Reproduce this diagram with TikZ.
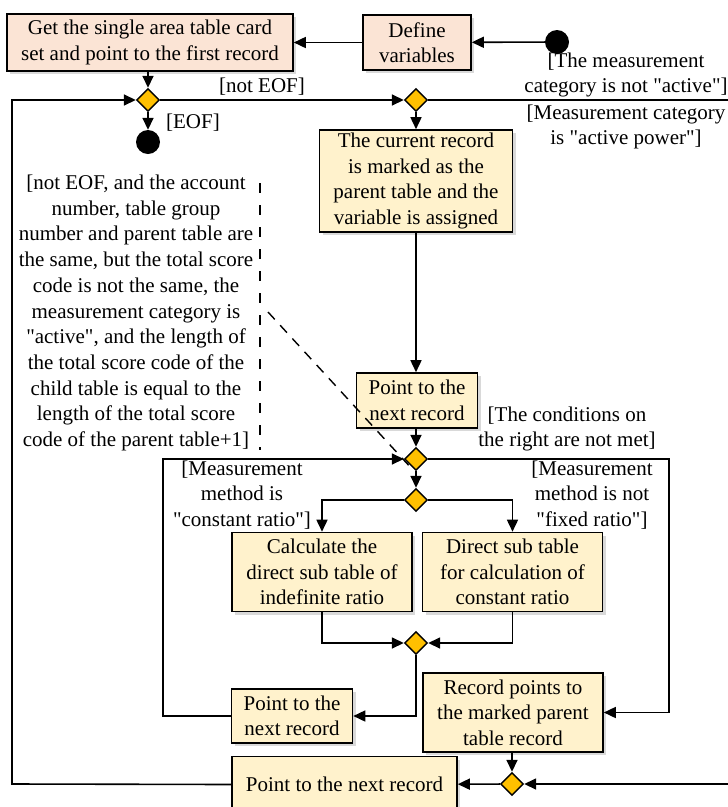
\documentclass[tikz,border=0pt]{standalone}
\usepackage{fontspec}
\setmainfont{Liberation Serif}[Ligatures=TeXOff]
\usetikzlibrary{arrows.meta,shapes.geometric,shadows}
\definecolor{pinkf}{HTML}{FBE4D5}
\definecolor{creamf}{HTML}{FFF2CC}
\definecolor{diaf}{HTML}{FFC000}
\begin{document}
\begin{tikzpicture}[x=1pt,y=-1pt,
 every node/.style={font=\fontsize{21}{25.5}\selectfont},
 bx/.style={draw, line width=1.6pt, align=center, inner sep=0pt, drop shadow={opacity=0.3,shadow xshift=3pt,shadow yshift=-3pt}},
 pbox/.style={bx, fill=pinkf},
 ybox/.style={bx, fill=creamf},
 dia/.style={diamond, draw, line width=1.4pt, fill=diaf, minimum width=23pt, minimum height=23pt, inner sep=0pt},
 dotn/.style={circle, fill=black, minimum size=24pt, inner sep=0pt},
 con/.style={line width=1.6pt},
 arr/.style={con, -{Triangle[length=12pt,width=11pt]}},
 lbl/.style={align=center, inner sep=0pt},
]
\useasboundingbox (0,0) rectangle (728,807);
\clip (0,0) rectangle (728,807);

% nodes
\node[pbox, minimum width=286pt, minimum height=57pt] (A) at (150,42.5) {Get the single area table card\\set and point to the first record};
\node[pbox, minimum width=108pt, minimum height=55pt] (B) at (417,42.5) {Define\\variables};
\node[dotn] (S) at (557,42) {};
\node[dia] (D1) at (148,100) {};
\node[dotn] (E) at (148,142) {};
\node[dia] (D2) at (416,100) {};
\node[ybox, minimum width=193pt, minimum height=102pt] (C) at (416,181) {The current record\\is marked as the\\parent table and the\\variable is assigned};
\node[ybox, minimum width=121pt, minimum height=55pt] (P1) at (417,400.5) {Point to the\\next record};
\node[dia] (D3) at (416,459) {};
\node[dia] (D4) at (416,500) {};
\node[ybox, minimum width=180pt, minimum height=79pt] (L) at (322,572) {Calculate the\\direct sub table of\\indefinite ratio};
\node[ybox, minimum width=180pt, minimum height=79pt] (Rt) at (512.5,572) {Direct sub table\\for calculation of\\constant ratio};
\node[dia] (D5) at (416,643) {};
\node[ybox, minimum width=121pt, minimum height=54pt] (P2) at (292,716) {Point to the\\next record};
\node[ybox, minimum width=180pt, minimum height=79pt] (R) at (513,712.5) {Record points to\\the marked parent\\table record};
\node[dia] (D6) at (512,784) {};
\node[ybox, minimum width=225pt, minimum height=56pt] (P3) at (344.5,784.5) {Point to the next record};

% coordinates
\coordinate (lc) at (12,784);
\coordinate (ic) at (163,716);
\coordinate (rc) at (669,459);
\coordinate (ro1) at (760,100);
\coordinate (ro2) at (760,784);
\coordinate (dv1) at (260,183);
\coordinate (dv2) at (260,450);
\coordinate (dd1) at (268,312);
\coordinate (dd2) at (413,470);

% connectors
\draw[arr] (S) -- (B);
\draw[arr] (B) -- (A);
\draw[arr] (D1|-A.south) -- (D1.north);
\draw[arr] (D1) -- (E);
\draw[arr] (D1.east) -- (D2.west);
\draw[arr] (D2) -- (C);
\draw[arr] (C.south) -- (C.south|-P1.north);
\draw[arr] (D3|-P1.south) -- (D3.north);
\draw[arr] (D3) -- (D4);
\draw[arr] (D4.west) -| (L.north);
\draw[arr] (D4.east) -| (Rt.north);
\draw[arr] (L.south) |- (D5.west);
\draw[arr] (Rt.south) |- (D5.east);
\draw[arr] (D5.south) |- (P2.east);
\draw[arr] (P2.west) -- (ic) |- (D3.west);
\draw[arr] (D3.east) -- (rc) |- (R.east);
\draw[arr] (D6|-R.south) -- (D6.north);
\draw[arr] (D6) -- (P3);
\draw[arr] (P3.west) -- (lc) |- (D1.west);
\draw[arr] (D2.east) -- (ro1) -- (ro2) -- (D6.east);
\draw[con, line width=1.4pt, dash pattern=on 10pt off 12pt] (dv1) -- (dv2);
\draw[con, line width=1.4pt, dash pattern=on 10pt off 8pt] (dd1) -- (dd2);

% labels
\node[lbl] at (262,87) {[not EOF]};
\node[lbl] at (193,123) {[EOF]};
\node[lbl] at (626,75) {[The measurement\\category is not "active"]};
\node[lbl] at (626,127) {[Measurement category\\is "active power"]};
\node[lbl, font=\fontsize{21}{25.7}\selectfont] at (136,313) {[not EOF, and the account\\number, table group\\number and parent table are\\the same, but the total score\\code is not the same, the\\measurement category is\\"active", and the length of\\the total score code of the\\child table is equal to the\\length of the total score\\code of the parent table+1]};
\node[lbl] at (567,429) {[The conditions on\\the right are not met]};
\node[lbl] at (242,495) {[Measurement\\method is\\"constant ratio"]};
\node[lbl] at (592,495) {[Measurement\\method is not\\"fixed ratio"]};
\end{tikzpicture}
\end{document}
